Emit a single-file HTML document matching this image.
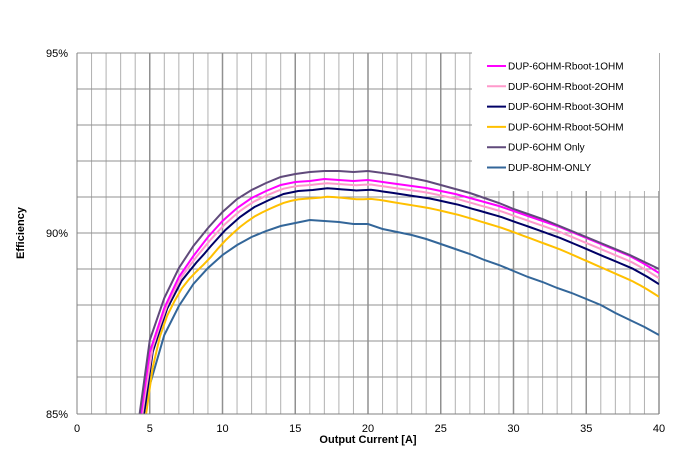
<!DOCTYPE html><html><head><meta charset="utf-8"><style>body{margin:0;background:#fff}svg{display:block;font-family:"Liberation Sans",Arial,sans-serif}</style></head><body>
<svg id="s" width="700" height="464" xmlns="http://www.w3.org/2000/svg">
<defs><clipPath id="c"><rect x="77" y="53" width="582" height="361"/></clipPath></defs>
<g id="grid"></g>
<rect x="472" y="52" width="187" height="139" fill="#fff"/>
<g id="lines" clip-path="url(#c)" fill="none" stroke-width="2"></g>
<g id="leg" font-size="10" fill="#000"></g>
<line x1="77" y1="53" x2="77" y2="414" stroke="#808080"/>
<line x1="77" y1="414" x2="659" y2="414" stroke="#808080"/>
<g font-size="11" text-anchor="end"><text x="68" y="57">95%</text><text x="68" y="237">90%</text><text x="68" y="418">85%</text></g>
<g id="xt" font-size="11" text-anchor="middle"></g>
<text x="368" y="443" font-size="11" font-weight="bold" text-anchor="middle">Output Current [A]</text>
<text transform="translate(24,233) rotate(-90)" font-size="11" font-weight="bold" text-anchor="middle">Efficiency</text>
</svg>
<script>
const X=a=>77+a*14.55;let g='';
for(let i=1;i<=40;i++){const x=X(i);g+=`<line x1="${x}" y1="53" x2="${x}" y2="414" stroke="${i%5?'#b0b0b0':'#909090'}" stroke-width="${i%5?1:1.5}"/>`;}
for(let j=0;j<10;j++){const y=53+j*36;g+=`<line x1="77" y1="${y}" x2="659" y2="${y}" stroke="#909090"/>`;}
document.getElementById('grid').innerHTML=g;
let xt='';for(let a=0;a<=40;a+=5)xt+=`<text x="${X(a)}" y="432">${a}</text>`;document.getElementById('xt').innerHTML=xt;
const P=[[4.3,414],[5,340],[6,298],[7,268],[8,246],[9,228],[10,212],[11,199],[12,190],[13,183],[14,177],[15,174],[16,172],[17,171],[18,171],[19,172],[20,171],[21,173],[22,175],[23,178],[24,181],[25,185],[26,189],[27,193],[28,198],[29,203],[30,209],[31,214],[32,219],[33,225],[34,231],[35,237],[36,243],[37,249],[38,255],[39,262],[40,269]];
const M=[[4.4,414],[5,352],[6,308],[7,277],[8,256],[9,237],[10,221],[11,208],[12,198],[13,191],[14,185],[15,182],[16,181],[17,179],[18,180],[19,181],[20,180],[21,182],[22,184],[23,186],[24,188],[25,191],[26,194],[27,198],[28,202],[29,206],[30,211],[31,216],[32,221],[33,226],[34,232],[35,238],[36,244],[37,250],[38,256],[39,264],[40,273]];
function interp(a){if(a<=M[0][0])return 414+(M[0][0]-a)*100;for(let i=1;i<M.length;i++)if(a<=M[i][0]){const[a0,y0]=M[i-1],[a1,y1]=M[i];return y0+(y1-y0)*(a-a0)/(a1-a0);}return M[M.length-1][1];}
function der(s,dm,de){const pts=[];for(let a=4.2;a<=40.001;a+=0.5){const r=a<6?0:a<9?(a-6)/3:1;const dy=r*(dm+(de-dm)*Math.max(0,(a-16)/24));pts.push([a,interp(a-s)+dy]);}pts.push([40,interp(40-s)+de]);return pts;}
const B=[[4.6,414],[5,385],[6,335],[7,306],[8,284],[9,268],[10,255],[11,245],[12,237],[13,231],[14,226],[15,223],[16,220],[17,221],[18,222],[19,224],[20,224],[21,229],[22,232],[23,235],[24,239],[25,244],[26,249],[27,254],[28,260],[29,265],[30,271],[31,277],[32,282],[33,288],[34,293],[35,299],[36,305],[37,313],[38,320],[39,327],[40,335]];
const S=[[B,'#336699'],[der(0.35,17,27),'#ffc000'],[der(0.2,9,13),'#000066'],[der(0.1,4,6),'#ff99cc'],[M,'#ff00ff'],[P,'#604a7b']];
let l='';S.forEach(s=>{l+=`<polyline stroke="${s[1]}" points="${s[0].map(p=>X(p[0]).toFixed(1)+','+p[1].toFixed(1)).join(' ')}"/>`});document.getElementById('lines').innerHTML=l;
const L=[['#ff00ff','DUP-6OHM-Rboot-1OHM'],['#ff99cc','DUP-6OHM-Rboot-2OHM'],['#000066','DUP-6OHM-Rboot-3OHM'],['#ffc000','DUP-6OHM-Rboot-5OHM'],['#604a7b','DUP-6OHM Only'],['#336699','DUP-8OHM-ONLY']];
let lg='';L.forEach((e,i)=>{const y=66+i*20.3;lg+=`<line x1="487" y1="${y}" x2="506" y2="${y}" stroke="${e[0]}" stroke-width="2"/><text x="508" y="${y+3.5}">${e[1]}</text>`});document.getElementById('leg').innerHTML=lg;
</script>
</body></html>
